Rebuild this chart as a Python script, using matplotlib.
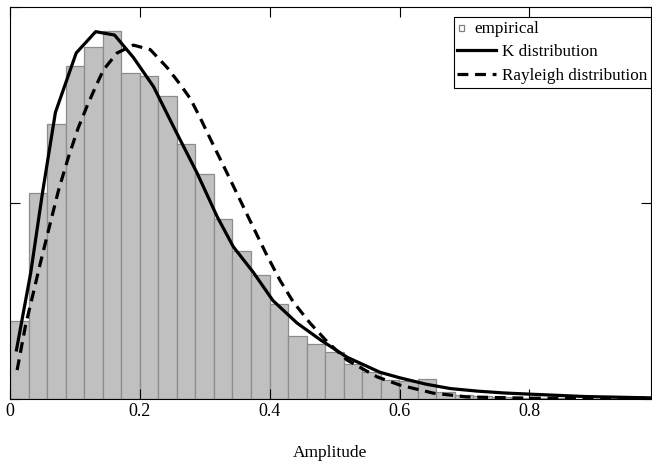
import numpy as np
import matplotlib
matplotlib.use('Agg')
import matplotlib.pyplot as plt
import matplotlib.patches as mpatches
from matplotlib.legend_handler import HandlerPatch

plt.rcParams['font.family'] = ['Liberation Serif', 'DejaVu Serif']

# histogram of the measured amplitudes (density)
bin_start = 0.0
bin_width = 0.02855
empirical = [0.70, 1.84, 2.46, 2.97, 3.14, 3.29, 2.91, 2.88, 2.71, 2.28,
             2.01, 1.61, 1.32, 1.11, 0.85, 0.56, 0.49, 0.42, 0.31, 0.24,
             0.17, 0.16, 0.18, 0.06, 0.036, 0.027, 0.02, 0.012, 0.009, 0.009,
             0.005]

# fitted K distribution
k_x = [0.010, 0.032, 0.050, 0.070, 0.102, 0.132, 0.161, 0.190, 0.221, 0.252,
       0.288, 0.319, 0.344, 0.375, 0.405, 0.442, 0.478, 0.519, 0.570, 0.601,
       0.640, 0.678, 0.720, 0.760, 0.801, 0.885, 0.985]
k_y = [0.44, 1.13, 1.84, 2.56, 3.09, 3.28, 3.25, 3.05, 2.79, 2.43,
       2.02, 1.63, 1.36, 1.13, 0.88, 0.68, 0.53, 0.375, 0.24, 0.19,
       0.135, 0.095, 0.072, 0.056, 0.045, 0.024, 0.012]

# fitted Rayleigh distribution
r_x = [0.011, 0.024, 0.036, 0.047, 0.062, 0.075, 0.090, 0.105, 0.119, 0.132,
       0.144, 0.165, 0.190, 0.216, 0.242, 0.262, 0.278, 0.293, 0.313, 0.335,
       0.355, 0.375, 0.396, 0.416, 0.436, 0.462, 0.489, 0.519, 0.565, 0.601,
       0.652, 0.704, 0.801, 0.985]
r_y = [0.26, 0.66, 0.95, 1.22, 1.57, 1.87, 2.16, 2.42, 2.62, 2.79,
       2.94, 3.09, 3.16, 3.12, 2.96, 2.81, 2.68, 2.51, 2.27, 2.01,
       1.77, 1.53, 1.28, 1.06, 0.87, 0.68, 0.51, 0.35, 0.20, 0.125,
       0.054, 0.020, 0.009, 0.008]

x_ticks = [0, 0.2, 0.4, 0.6, 0.8]
x_tick_labels = ['0', '0.2', '0.4', '0.6', '0.8']


def small_bar(legend, orig_handle, xdescent, ydescent, width, height, fontsize):
    return mpatches.Rectangle((-xdescent + 0.04 * width, -ydescent + 0.15 * height),
                              0.13 * width, 0.45 * height)


fig = plt.figure(figsize=(6.52, 4.68), dpi=100)
ax = fig.add_axes([0.0153, 0.147, 0.983, 0.838])

edges = bin_start + bin_width * np.arange(len(empirical))
ax.bar(edges, empirical, width=bin_width, align='edge',
       color='#c0c0c0', edgecolor='#8c8c8c', linewidth=0.9)
k_line, = ax.plot(k_x, k_y, color='black', lw=2.3, label='K distribution')
r_line, = ax.plot(r_x, r_y, color='black', lw=2.3, ls=(0, (3.4, 2.1)),
                  label='Rayleigh distribution')

ax.set_xlim(0, 0.987)
ax.set_ylim(0, 3.5)
ax.set_xticks(x_ticks)
ax.set_xticklabels(x_tick_labels)
ax.set_yticks([0, 1.75, 3.5])
ax.set_yticklabels([])
ax.tick_params(direction='in', length=7, width=0.8, top=True, right=True,
               labelsize=13, pad=3)
for s in ax.spines.values():
    s.set_linewidth(0.8)
ax.set_xlabel('Amplitude', fontsize=12.5, labelpad=18)

bar_proxy = mpatches.Patch(facecolor='white', edgecolor='#808080', lw=0.9,
                           label='empirical')
leg = ax.legend(handles=[bar_proxy, k_line, r_line], loc='upper right',
                bbox_to_anchor=(1.0, 0.975), borderaxespad=0, fontsize=12.3,
                frameon=True, fancybox=False, framealpha=1, edgecolor='black',
                handlelength=2.25, handletextpad=0.35, labelspacing=0.45,
                borderpad=0.22,
                handler_map={bar_proxy: HandlerPatch(patch_func=small_bar)})
leg.get_frame().set_linewidth(0.8)
leg.get_texts()[0].set_x(-27)

fig.savefig('out.png', dpi=100)
